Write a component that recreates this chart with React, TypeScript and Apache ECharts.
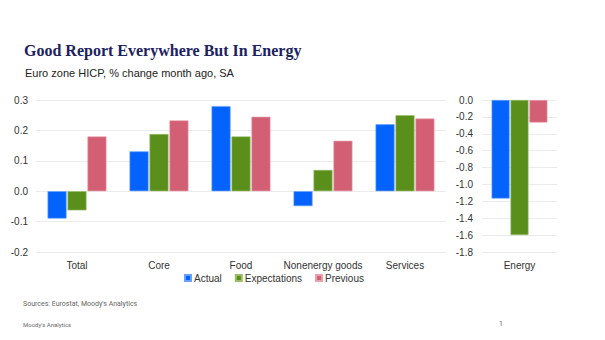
import React, { useEffect, useRef } from "react";
import * as echarts from "echarts";

const categories = ["Total", "Core", "Food", "Nonenergy goods", "Services"];
const actual = [-0.09, 0.131, 0.28, -0.049, 0.22];
const expectations = [-0.063, 0.188, 0.18, 0.07, 0.25];
const previous = [0.18, 0.233, 0.245, 0.166, 0.239];

const energyCategory = ["Energy"];
const energyActual = [-1.167];
const energyExpectations = [-1.6];
const energyPrevious = [-0.267];

const seriesNames = ["Actual", "Expectations", "Previous"];
const colors = ["#0563fd", "#5a8f1c", "#d35f74"];
const borders = ["#6aa0ff", "#9cc06a", "#eaa0ad"];

const FONT = "Liberation Sans, Arial, sans-serif";

export default function App() {
  const ref = useRef<HTMLDivElement>(null);
  useEffect(() => {
    if (!ref.current) return;
    const chart = echarts.init(ref.current, undefined, { renderer: "svg" });
    const leftData = [actual, expectations, previous];
    const rightData = [energyActual, energyExpectations, energyPrevious];
    const series: any[] = [];
    leftData.forEach((d, i) => {
      series.push({
        name: seriesNames[i],
        type: "bar",
        xAxisIndex: 0,
        yAxisIndex: 0,
        data: d,
        barWidth: 19,
        barGap: "5%",
        itemStyle: { color: colors[i], borderColor: borders[i], borderWidth: 0.6 },
      });
    });
    rightData.forEach((d, i) => {
      series.push({
        name: seriesNames[i],
        type: "bar",
        xAxisIndex: 1,
        yAxisIndex: 1,
        data: d,
        barWidth: 18,
        barGap: "5%",
        itemStyle: { color: colors[i], borderColor: borders[i], borderWidth: 0.6 },
      });
    });
    const axisLabel = { color: "#333", fontSize: 10, fontFamily: FONT };
    const small = { fontFamily: "Roboto, sans-serif", fontWeight: "normal", color: "#666" };
    chart.setOption({
      animation: false,
      backgroundColor: "#ffffff",
      title: [
        {
          text: "Good Report Everywhere But In Energy",
          left: 24,
          top: 42,
          padding: 0,
          textStyle: {
            fontFamily: "Liberation Serif, serif",
            fontWeight: "bold",
            fontSize: 16,
            color: "#1c2260",
          },
        },
        {
          text: "Euro zone HICP, % change month ago, SA",
          left: 25,
          top: 67,
          padding: 0,
          textStyle: { fontFamily: FONT, fontWeight: "normal", fontSize: 11, color: "#222" },
        },
        {
          text: "Sources: Eurostat, Moody's Analytics",
          left: 23,
          top: 300,
          padding: 0,
          textStyle: { ...small, fontSize: 7 },
        },
        {
          text: "Moody's Analytics",
          left: 23,
          top: 321,
          padding: 0,
          textStyle: { ...small, fontSize: 6 },
        },
        {
          text: "1",
          left: 499,
          top: 320,
          padding: 0,
          textStyle: { ...small, fontSize: 7 },
        },
      ],
      legend: {
        data: seriesNames,
        left: 179,
        top: 268,
        icon: "rect",
        itemWidth: 6,
        itemHeight: 6,
        itemGap: 13,
        textStyle: { fontFamily: FONT, fontSize: 10, color: "#333", padding: [0, 0, 0, -2] },
      },
      grid: [
        { left: 36, right: 159, top: 100, height: 152 },
        { left: 482, width: 75, top: 100, height: 152 },
      ],
      xAxis: [
        {
          type: "category",
          gridIndex: 0,
          data: categories,
          position: "bottom",
          axisLine: { show: false },
          axisTick: { show: false },
          axisLabel: { ...axisLabel, margin: 8, interval: 0 },
        },
        {
          type: "category",
          gridIndex: 1,
          data: energyCategory,
          position: "bottom",
          axisLine: { show: false },
          axisTick: { show: false },
          axisLabel: { ...axisLabel, margin: 8 },
        },
      ],
      yAxis: [
        {
          type: "value",
          gridIndex: 0,
          min: -0.2,
          max: 0.3,
          interval: 0.1,
          axisLine: { show: false },
          axisTick: { show: false },
          axisLabel: { ...axisLabel, margin: 8, formatter: (v: number) => v.toFixed(1) },
          splitLine: { lineStyle: { color: "#ebebeb", width: 1 } },
        },
        {
          type: "value",
          gridIndex: 1,
          min: -1.8,
          max: 0,
          interval: 0.2,
          axisLine: { show: false },
          axisTick: { show: false },
          axisLabel: { ...axisLabel, margin: 9, formatter: (v: number) => v.toFixed(1) },
          splitLine: { lineStyle: { color: "#ebebeb", width: 1 } },
        },
      ],
      series,
    });
    return () => chart.dispose();
  }, []);
  return (
    <div
      ref={ref}
      style={{ position: "fixed", left: 0, top: 0, width: 605, height: 340 }}
    />
  );
}
